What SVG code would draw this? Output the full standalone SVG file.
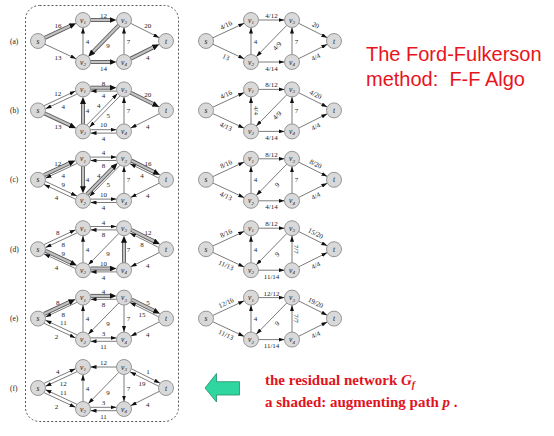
<svg xmlns="http://www.w3.org/2000/svg" width="554" height="436" viewBox="0 0 554 436">
<style>
.nd circle{fill:#d9d9d9;stroke:#808080;stroke-width:0.8}
.nd text{font-family:"Liberation Serif",serif;font-style:italic;font-size:7.5px;text-anchor:middle;fill:#222}
.nd tspan{font-size:5px}
.e{fill:none;stroke:#222;stroke-width:0.6;marker-end:url(#ah)}
.sb{fill:none;stroke:#5c5c5c;stroke-width:4}
.sf{fill:none;stroke:#c2c2c2;stroke-width:2.2;marker-end:url(#ahs)}
.l{font-family:"Liberation Serif",serif;font-size:7px;text-anchor:middle;fill:#222}
.rl{font-family:"Liberation Serif",serif;font-size:7.5px;fill:#222}
.title{font-family:"Liberation Sans",Arial,sans-serif;font-size:20px;fill:#e8141c}
.note{font-family:"Liberation Serif","Times New Roman",serif;font-size:15px;font-weight:bold;fill:#e0141e}
</style>
<defs>
<marker id="ah" viewBox="0 0 6 4" markerWidth="6" markerHeight="4" refX="6" refY="2" orient="auto" markerUnits="userSpaceOnUse"><path d="M0,0L6,2L0,4z" fill="#111"/></marker>
<marker id="ahs" viewBox="0 0 7 6" markerWidth="7" markerHeight="6" refX="2" refY="3" orient="auto" markerUnits="userSpaceOnUse"><path d="M0,0L7,3L0,6z" fill="#111"/></marker>
</defs>
<rect id="frame" x="25.5" y="5.5" width="153" height="416" rx="14" fill="none" stroke="#555" stroke-width="1" stroke-dasharray="2,2"/>
<g id="row-labels">
<text class="rl" x="10" y="43.5">(a)</text>
<text class="rl" x="10" y="112.9">(b)</text>
<text class="rl" x="10" y="182.3">(c)</text>
<text class="rl" x="10" y="251.7">(d)</text>
<text class="rl" x="10" y="321.1">(e)</text>
<text class="rl" x="10" y="390.5">(f)</text>
</g>

<!-- (a) residual -->
<g id="left-a" transform="translate(38,41)">
<g id="left-a-edges">
<path class="sb" d="M6.8,-3.17L33.67,-15.72"/><path class="sf" d="M6.8,-3.17L33.67,-15.72"/>
<path class="e" d="M6.8,3.17L38.2,17.83"/>
<path class="sb" d="M52.5,-21L73.5,-21"/><path class="sf" d="M52.5,-21L73.5,-21"/>
<path class="e" d="M45,13.5L45,-13.5"/>
<path class="sb" d="M80.76,-15.63L53.73,12.05"/><path class="sf" d="M80.76,-15.63L53.73,12.05"/>
<path class="sb" d="M52.5,21L73.5,21"/><path class="sf" d="M52.5,21L73.5,21"/>
<path class="e" d="M86,13.5L86,-13.5"/>
<path class="e" d="M92.71,-17.65L121.29,-3.35"/>
<path class="sb" d="M92.71,17.65L116.82,5.59"/><path class="sf" d="M92.71,17.65L116.82,5.59"/>
<text class="l" x="20" y="-13.5">16</text>
<text class="l" x="20" y="18.5">13</text>
<text class="l" x="65.5" y="-23">12</text>
<text class="l" x="49.5" y="2.5">4</text>
<text class="l" x="70" y="7">9</text>
<text class="l" x="65.5" y="29.5">14</text>
<text class="l" x="90.5" y="2.5">7</text>
<text class="l" x="109.7" y="-13.5">20</text>
<text class="l" x="109.7" y="18.5">4</text>
</g>
<g id="a-s" class="nd"><circle r="7.5"/><text y="2.5">s</text></g>
<g id="a-v1" class="nd" transform="translate(45,-21)"><circle r="7.5"/><text y="2.5">v<tspan dy="1.5">1</tspan></text></g>
<g id="a-v2" class="nd" transform="translate(45,21)"><circle r="7.5"/><text y="2.5">v<tspan dy="1.5">2</tspan></text></g>
<g id="a-v3" class="nd" transform="translate(86,-21)"><circle r="7.5"/><text y="2.5">v<tspan dy="1.5">3</tspan></text></g>
<g id="a-v4" class="nd" transform="translate(86,21)"><circle r="7.5"/><text y="2.5">v<tspan dy="1.5">4</tspan></text></g>
<g id="a-t" class="nd" transform="translate(128,0)"><circle r="7.5"/><text y="2.5">t</text></g>
</g>

<!-- (b) residual -->
<g id="left-b" transform="translate(38,110.4)">
<g id="left-b-edges">
<path class="e" d="M6.08,-4.71L37.48,-19.37"/>
<path class="e" d="M38.92,-16.29L7.52,-1.63"/>
<path class="sb" d="M6.8,3.17L33.67,15.72"/><path class="sf" d="M6.8,3.17L33.67,15.72"/>
<path class="sb" d="M45,13.5L45,-8.5"/><path class="sf" d="M45,13.5L45,-8.5"/>
<path class="sb" d="M52.5,-22.7L73.5,-22.7"/><path class="sf" d="M52.5,-22.7L73.5,-22.7"/>
<path class="e" d="M78.5,-19.3L52.5,-19.3"/>
<path class="e" d="M81.98,-14.44L51.46,16.82"/>
<path class="e" d="M49.02,14.44L79.54,-16.82"/>
<path class="e" d="M52.5,19.3L78.5,19.3"/>
<path class="e" d="M78.5,22.7L52.5,22.7"/>
<path class="e" d="M86,13.5L86,-13.5"/>
<path class="sb" d="M92.71,-17.65L116.82,-5.59"/><path class="sf" d="M92.71,-17.65L116.82,-5.59"/>
<path class="e" d="M121.29,3.35L92.71,17.65"/>
<text class="l" x="19.7" y="-14.1">12</text>
<text class="l" x="25.3" y="-1.9">4</text>
<text class="l" x="20" y="18.5">13</text>
<text class="l" x="49.5" y="2.5">4</text>
<text class="l" x="65.5" y="-24.5">8</text>
<text class="l" x="65.5" y="-12">4</text>
<text class="l" x="70.3" y="7.2">5</text>
<text class="l" x="60.7" y="-2.2">4</text>
<text class="l" x="65.5" y="17">10</text>
<text class="l" x="65.5" y="30.5">4</text>
<text class="l" x="90.5" y="2.5">7</text>
<text class="l" x="109.7" y="-13.5">20</text>
<text class="l" x="109.7" y="18.5">4</text>
</g>
<g id="b-s" class="nd"><circle r="7.5"/><text y="2.5">s</text></g>
<g id="b-v1" class="nd" transform="translate(45,-21)"><circle r="7.5"/><text y="2.5">v<tspan dy="1.5">1</tspan></text></g>
<g id="b-v2" class="nd" transform="translate(45,21)"><circle r="7.5"/><text y="2.5">v<tspan dy="1.5">2</tspan></text></g>
<g id="b-v3" class="nd" transform="translate(86,-21)"><circle r="7.5"/><text y="2.5">v<tspan dy="1.5">3</tspan></text></g>
<g id="b-v4" class="nd" transform="translate(86,21)"><circle r="7.5"/><text y="2.5">v<tspan dy="1.5">4</tspan></text></g>
<g id="b-t" class="nd" transform="translate(128,0)"><circle r="7.5"/><text y="2.5">t</text></g>
</g>

<!-- (c) residual -->
<g id="left-c" transform="translate(38,179.8)">
<g id="left-c-edges">
<path class="sb" d="M6.08,-4.71L32.95,-17.26"/><path class="sf" d="M6.08,-4.71L32.95,-17.26"/>
<path class="e" d="M38.92,-16.29L7.52,-1.63"/>
<path class="e" d="M7.52,1.63L38.92,16.29"/>
<path class="e" d="M37.48,19.37L6.08,4.71"/>
<path class="e" d="M52.5,-22.7L78.5,-22.7"/>
<path class="e" d="M78.5,-19.3L52.5,-19.3"/>
<path class="sb" d="M45,-13.5L45,8.5"/><path class="sf" d="M45,-13.5L45,8.5"/>
<path class="sb" d="M49.02,14.44L76.05,-13.24"/><path class="sf" d="M49.02,14.44L76.05,-13.24"/>
<path class="e" d="M81.98,-14.44L51.46,16.82"/>
<path class="e" d="M52.5,19.3L78.5,19.3"/>
<path class="e" d="M78.5,22.7L52.5,22.7"/>
<path class="e" d="M86,13.5L86,-13.5"/>
<path class="sb" d="M93.47,-19.17L117.58,-7.11"/><path class="sf" d="M93.47,-19.17L117.58,-7.11"/>
<path class="e" d="M120.53,-1.83L91.95,-16.13"/>
<path class="e" d="M121.29,3.35L92.71,17.65"/>
<text class="l" x="19.7" y="-14.1">12</text>
<text class="l" x="25.3" y="-1.9">4</text>
<text class="l" x="25.3" y="6.9">9</text>
<text class="l" x="18.5" y="20.5">4</text>
<text class="l" x="65.5" y="-24.5">4</text>
<text class="l" x="65.5" y="-12">8</text>
<text class="l" x="49.5" y="2.5">4</text>
<text class="l" x="60.7" y="-2.2">4</text>
<text class="l" x="70.3" y="7.2">5</text>
<text class="l" x="65.5" y="17">10</text>
<text class="l" x="65.5" y="30.5">4</text>
<text class="l" x="90.5" y="2.5">7</text>
<text class="l" x="110" y="-14">16</text>
<text class="l" x="104" y="-2">4</text>
<text class="l" x="109.7" y="18.5">4</text>
</g>
<g id="c-s" class="nd"><circle r="7.5"/><text y="2.5">s</text></g>
<g id="c-v1" class="nd" transform="translate(45,-21)"><circle r="7.5"/><text y="2.5">v<tspan dy="1.5">1</tspan></text></g>
<g id="c-v2" class="nd" transform="translate(45,21)"><circle r="7.5"/><text y="2.5">v<tspan dy="1.5">2</tspan></text></g>
<g id="c-v3" class="nd" transform="translate(86,-21)"><circle r="7.5"/><text y="2.5">v<tspan dy="1.5">3</tspan></text></g>
<g id="c-v4" class="nd" transform="translate(86,21)"><circle r="7.5"/><text y="2.5">v<tspan dy="1.5">4</tspan></text></g>
<g id="c-t" class="nd" transform="translate(128,0)"><circle r="7.5"/><text y="2.5">t</text></g>
</g>

<!-- (d) residual -->
<g id="left-d" transform="translate(38,249.2)">
<g id="left-d-edges">
<path class="e" d="M6.08,-4.71L37.48,-19.37"/>
<path class="e" d="M38.92,-16.29L7.52,-1.63"/>
<path class="sb" d="M7.52,1.63L34.39,14.18"/><path class="sf" d="M7.52,1.63L34.39,14.18"/>
<path class="e" d="M37.48,19.37L6.08,4.71"/>
<path class="e" d="M52.5,-22.7L78.5,-22.7"/>
<path class="e" d="M78.5,-19.3L52.5,-19.3"/>
<path class="e" d="M45,13.5L45,-13.5"/>
<path class="e" d="M80.76,-15.63L50.24,15.63"/>
<path class="sb" d="M52.5,19.3L73.5,19.3"/><path class="sf" d="M52.5,19.3L73.5,19.3"/>
<path class="e" d="M78.5,22.7L52.5,22.7"/>
<path class="sb" d="M86,13.5L86,-8.5"/><path class="sf" d="M86,13.5L86,-8.5"/>
<path class="sb" d="M93.47,-19.17L117.58,-7.11"/><path class="sf" d="M93.47,-19.17L117.58,-7.11"/>
<path class="e" d="M120.53,-1.83L91.95,-16.13"/>
<path class="e" d="M121.29,3.35L92.71,17.65"/>
<text class="l" x="19.7" y="-14.1">8</text>
<text class="l" x="25.3" y="-1.9">8</text>
<text class="l" x="25.3" y="6.9">9</text>
<text class="l" x="18.5" y="20.5">4</text>
<text class="l" x="65.5" y="-24.5">4</text>
<text class="l" x="65.5" y="-12">8</text>
<text class="l" x="49.5" y="2.5">4</text>
<text class="l" x="70" y="7">9</text>
<text class="l" x="65.5" y="17">10</text>
<text class="l" x="65.5" y="30.5">4</text>
<text class="l" x="90.5" y="2.5">7</text>
<text class="l" x="110" y="-14">12</text>
<text class="l" x="104" y="-2">8</text>
<text class="l" x="109.7" y="18.5">4</text>
</g>
<g id="d-s" class="nd"><circle r="7.5"/><text y="2.5">s</text></g>
<g id="d-v1" class="nd" transform="translate(45,-21)"><circle r="7.5"/><text y="2.5">v<tspan dy="1.5">1</tspan></text></g>
<g id="d-v2" class="nd" transform="translate(45,21)"><circle r="7.5"/><text y="2.5">v<tspan dy="1.5">2</tspan></text></g>
<g id="d-v3" class="nd" transform="translate(86,-21)"><circle r="7.5"/><text y="2.5">v<tspan dy="1.5">3</tspan></text></g>
<g id="d-v4" class="nd" transform="translate(86,21)"><circle r="7.5"/><text y="2.5">v<tspan dy="1.5">4</tspan></text></g>
<g id="d-t" class="nd" transform="translate(128,0)"><circle r="7.5"/><text y="2.5">t</text></g>
</g>

<!-- (e) residual -->
<g id="left-e" transform="translate(38,318.6)">
<g id="left-e-edges">
<path class="sb" d="M6.08,-4.71L32.95,-17.26"/><path class="sf" d="M6.08,-4.71L32.95,-17.26"/>
<path class="e" d="M38.92,-16.29L7.52,-1.63"/>
<path class="e" d="M38.92,16.29L7.52,1.63"/>
<path class="e" d="M6.08,4.71L37.48,19.37"/>
<path class="sb" d="M52.5,-22.7L73.5,-22.7"/><path class="sf" d="M52.5,-22.7L73.5,-22.7"/>
<path class="e" d="M78.5,-19.3L52.5,-19.3"/>
<path class="e" d="M45,13.5L45,-13.5"/>
<path class="e" d="M80.76,-15.63L50.24,15.63"/>
<path class="e" d="M86,-13.5L86,13.5"/>
<path class="e" d="M52.5,19.3L78.5,19.3"/>
<path class="e" d="M78.5,22.7L52.5,22.7"/>
<path class="sb" d="M93.47,-19.17L117.58,-7.11"/><path class="sf" d="M93.47,-19.17L117.58,-7.11"/>
<path class="e" d="M120.53,-1.83L91.95,-16.13"/>
<path class="e" d="M121.29,3.35L92.71,17.65"/>
<text class="l" x="19.7" y="-14.1">8</text>
<text class="l" x="25.3" y="-1.9">8</text>
<text class="l" x="25.3" y="6.9">11</text>
<text class="l" x="18.5" y="20.5">2</text>
<text class="l" x="65.5" y="-24.5">4</text>
<text class="l" x="65.5" y="-12">8</text>
<text class="l" x="49.5" y="2.5">4</text>
<text class="l" x="70" y="7">9</text>
<text class="l" x="90.5" y="2.5">7</text>
<text class="l" x="65.5" y="17">3</text>
<text class="l" x="65.5" y="30.5">11</text>
<text class="l" x="110" y="-14">5</text>
<text class="l" x="104" y="-2">15</text>
<text class="l" x="109.7" y="18.5">4</text>
</g>
<g id="e-s" class="nd"><circle r="7.5"/><text y="2.5">s</text></g>
<g id="e-v1" class="nd" transform="translate(45,-21)"><circle r="7.5"/><text y="2.5">v<tspan dy="1.5">1</tspan></text></g>
<g id="e-v2" class="nd" transform="translate(45,21)"><circle r="7.5"/><text y="2.5">v<tspan dy="1.5">2</tspan></text></g>
<g id="e-v3" class="nd" transform="translate(86,-21)"><circle r="7.5"/><text y="2.5">v<tspan dy="1.5">3</tspan></text></g>
<g id="e-v4" class="nd" transform="translate(86,21)"><circle r="7.5"/><text y="2.5">v<tspan dy="1.5">4</tspan></text></g>
<g id="e-t" class="nd" transform="translate(128,0)"><circle r="7.5"/><text y="2.5">t</text></g>
</g>

<!-- (f) residual -->
<g id="left-f" transform="translate(38,388)">
<g id="left-f-edges">
<path class="e" d="M6.08,-4.71L37.48,-19.37"/>
<path class="e" d="M38.92,-16.29L7.52,-1.63"/>
<path class="e" d="M38.92,16.29L7.52,1.63"/>
<path class="e" d="M6.08,4.71L37.48,19.37"/>
<path class="e" d="M78.5,-21L52.5,-21"/>
<path class="e" d="M45,13.5L45,-13.5"/>
<path class="e" d="M80.76,-15.63L50.24,15.63"/>
<path class="e" d="M86,-13.5L86,13.5"/>
<path class="e" d="M52.5,19.3L78.5,19.3"/>
<path class="e" d="M78.5,22.7L52.5,22.7"/>
<path class="e" d="M93.47,-19.17L122.05,-4.87"/>
<path class="e" d="M120.53,-1.83L91.95,-16.13"/>
<path class="e" d="M121.29,3.35L92.71,17.65"/>
<text class="l" x="19.7" y="-14.1">4</text>
<text class="l" x="25.3" y="-1.9">12</text>
<text class="l" x="25.3" y="6.9">11</text>
<text class="l" x="18.5" y="20.5">2</text>
<text class="l" x="65.5" y="-23">12</text>
<text class="l" x="49.5" y="2.5">4</text>
<text class="l" x="70" y="7">9</text>
<text class="l" x="90.5" y="2.5">7</text>
<text class="l" x="65.5" y="17">3</text>
<text class="l" x="65.5" y="30.5">11</text>
<text class="l" x="110" y="-14">1</text>
<text class="l" x="104" y="-2">19</text>
<text class="l" x="109.7" y="18.5">4</text>
</g>
<g id="f-s" class="nd"><circle r="7.5"/><text y="2.5">s</text></g>
<g id="f-v1" class="nd" transform="translate(45,-21)"><circle r="7.5"/><text y="2.5">v<tspan dy="1.5">1</tspan></text></g>
<g id="f-v2" class="nd" transform="translate(45,21)"><circle r="7.5"/><text y="2.5">v<tspan dy="1.5">2</tspan></text></g>
<g id="f-v3" class="nd" transform="translate(86,-21)"><circle r="7.5"/><text y="2.5">v<tspan dy="1.5">3</tspan></text></g>
<g id="f-v4" class="nd" transform="translate(86,21)"><circle r="7.5"/><text y="2.5">v<tspan dy="1.5">4</tspan></text></g>
<g id="f-t" class="nd" transform="translate(128,0)"><circle r="7.5"/><text y="2.5">t</text></g>
</g>

<!-- flow networks (right column) -->
<g id="right-a" transform="translate(206,41)">
<g id="right-a-edges">
<path class="e" d="M6.8,-3.17L38.2,-17.83"/><path class="e" d="M6.8,3.17L38.2,17.83"/><path class="e" d="M52.5,-21L78.5,-21"/><path class="e" d="M45,13.5L45,-13.5"/><path class="e" d="M80.76,-15.63L50.24,15.63"/><path class="e" d="M52.5,21L78.5,21"/><path class="e" d="M86,13.5L86,-13.5"/><path class="e" d="M92.71,-17.65L121.29,-3.35"/><path class="e" d="M92.71,17.65L121.29,3.35"/>
<text class="l" transform="translate(20,-16) rotate(-25)" y="2.5">4/16</text>
<text class="l" transform="translate(20,16) rotate(25)" y="2.5">13</text>
<text class="l" x="65.5" y="-23">4/12</text>
<text class="l" x="49.5" y="2.5">4</text>
<text class="l" transform="translate(71,5) rotate(-45)" y="2.5">4/9</text>
<text class="l" x="65.5" y="29.5">4/14</text>
<text class="l" x="90.5" y="2.5">7</text>
<text class="l" transform="translate(109.7,-16) rotate(26.6)" y="2.5">20</text>
<text class="l" transform="translate(109.7,16) rotate(-26.6)" y="2.5">4/4</text>
</g>
<g id="ra-s" class="nd"><circle r="7.5"/><text y="2.5">s</text></g>
<g id="ra-v1" class="nd" transform="translate(45,-21)"><circle r="7.5"/><text y="2.5">v<tspan dy="1.5">1</tspan></text></g>
<g id="ra-v2" class="nd" transform="translate(45,21)"><circle r="7.5"/><text y="2.5">v<tspan dy="1.5">2</tspan></text></g>
<g id="ra-v3" class="nd" transform="translate(86,-21)"><circle r="7.5"/><text y="2.5">v<tspan dy="1.5">3</tspan></text></g>
<g id="ra-v4" class="nd" transform="translate(86,21)"><circle r="7.5"/><text y="2.5">v<tspan dy="1.5">4</tspan></text></g>
<g id="ra-t" class="nd" transform="translate(128,0)"><circle r="7.5"/><text y="2.5">t</text></g>
</g>

<g id="right-b" transform="translate(206,110.4)">
<g id="right-b-edges">
<path class="e" d="M6.8,-3.17L38.2,-17.83"/><path class="e" d="M6.8,3.17L38.2,17.83"/><path class="e" d="M52.5,-21L78.5,-21"/><path class="e" d="M45,13.5L45,-13.5"/><path class="e" d="M80.76,-15.63L50.24,15.63"/><path class="e" d="M52.5,21L78.5,21"/><path class="e" d="M86,13.5L86,-13.5"/><path class="e" d="M92.71,-17.65L121.29,-3.35"/><path class="e" d="M92.71,17.65L121.29,3.35"/>
<text class="l" transform="translate(20,-16) rotate(-25)" y="2.5">4/16</text>
<text class="l" transform="translate(20,16) rotate(25)" y="2.5">4/13</text>
<text class="l" x="65.5" y="-23">8/12</text>
<text class="l" transform="translate(50,0) rotate(90)" y="2.5">4/4</text>
<text class="l" transform="translate(71,5) rotate(-45)" y="2.5">4/9</text>
<text class="l" x="65.5" y="29.5">4/14</text>
<text class="l" x="90.5" y="2.5">7</text>
<text class="l" transform="translate(109.7,-16) rotate(26.6)" y="2.5">4/20</text>
<text class="l" transform="translate(109.7,16) rotate(-26.6)" y="2.5">4/4</text>
</g>
<g id="rb-s" class="nd"><circle r="7.5"/><text y="2.5">s</text></g>
<g id="rb-v1" class="nd" transform="translate(45,-21)"><circle r="7.5"/><text y="2.5">v<tspan dy="1.5">1</tspan></text></g>
<g id="rb-v2" class="nd" transform="translate(45,21)"><circle r="7.5"/><text y="2.5">v<tspan dy="1.5">2</tspan></text></g>
<g id="rb-v3" class="nd" transform="translate(86,-21)"><circle r="7.5"/><text y="2.5">v<tspan dy="1.5">3</tspan></text></g>
<g id="rb-v4" class="nd" transform="translate(86,21)"><circle r="7.5"/><text y="2.5">v<tspan dy="1.5">4</tspan></text></g>
<g id="rb-t" class="nd" transform="translate(128,0)"><circle r="7.5"/><text y="2.5">t</text></g>
</g>

<g id="right-c" transform="translate(206,179.8)">
<g id="right-c-edges">
<path class="e" d="M6.8,-3.17L38.2,-17.83"/><path class="e" d="M6.8,3.17L38.2,17.83"/><path class="e" d="M52.5,-21L78.5,-21"/><path class="e" d="M45,13.5L45,-13.5"/><path class="e" d="M80.76,-15.63L50.24,15.63"/><path class="e" d="M52.5,21L78.5,21"/><path class="e" d="M86,13.5L86,-13.5"/><path class="e" d="M92.71,-17.65L121.29,-3.35"/><path class="e" d="M92.71,17.65L121.29,3.35"/>
<text class="l" transform="translate(20,-16) rotate(-25)" y="2.5">8/16</text>
<text class="l" transform="translate(20,16) rotate(25)" y="2.5">4/13</text>
<text class="l" x="65.5" y="-23">8/12</text>
<text class="l" x="49.5" y="2.5">4</text>
<text class="l" transform="translate(71,5) rotate(-45)" y="2.5">9</text>
<text class="l" x="65.5" y="29.5">4/14</text>
<text class="l" x="90.5" y="2.5">7</text>
<text class="l" transform="translate(109.7,-16) rotate(26.6)" y="2.5">8/20</text>
<text class="l" transform="translate(109.7,16) rotate(-26.6)" y="2.5">4/4</text>
</g>
<g id="rc-s" class="nd"><circle r="7.5"/><text y="2.5">s</text></g>
<g id="rc-v1" class="nd" transform="translate(45,-21)"><circle r="7.5"/><text y="2.5">v<tspan dy="1.5">1</tspan></text></g>
<g id="rc-v2" class="nd" transform="translate(45,21)"><circle r="7.5"/><text y="2.5">v<tspan dy="1.5">2</tspan></text></g>
<g id="rc-v3" class="nd" transform="translate(86,-21)"><circle r="7.5"/><text y="2.5">v<tspan dy="1.5">3</tspan></text></g>
<g id="rc-v4" class="nd" transform="translate(86,21)"><circle r="7.5"/><text y="2.5">v<tspan dy="1.5">4</tspan></text></g>
<g id="rc-t" class="nd" transform="translate(128,0)"><circle r="7.5"/><text y="2.5">t</text></g>
</g>

<g id="right-d" transform="translate(206,249.2)">
<g id="right-d-edges">
<path class="e" d="M6.8,-3.17L38.2,-17.83"/><path class="e" d="M6.8,3.17L38.2,17.83"/><path class="e" d="M52.5,-21L78.5,-21"/><path class="e" d="M45,13.5L45,-13.5"/><path class="e" d="M80.76,-15.63L50.24,15.63"/><path class="e" d="M52.5,21L78.5,21"/><path class="e" d="M86,13.5L86,-13.5"/><path class="e" d="M92.71,-17.65L121.29,-3.35"/><path class="e" d="M92.71,17.65L121.29,3.35"/>
<text class="l" transform="translate(20,-16) rotate(-25)" y="2.5">8/16</text>
<text class="l" transform="translate(20,16) rotate(25)" y="2.5">11/13</text>
<text class="l" x="65.5" y="-23">8/12</text>
<text class="l" x="49.5" y="2.5">4</text>
<text class="l" transform="translate(71,5) rotate(-45)" y="2.5">9</text>
<text class="l" x="65.5" y="29.5">11/14</text>
<text class="l" transform="translate(90.5,0) rotate(90)" y="2.5">7/7</text>
<text class="l" transform="translate(109.7,-16) rotate(26.6)" y="2.5">15/20</text>
<text class="l" transform="translate(109.7,16) rotate(-26.6)" y="2.5">4/4</text>
</g>
<g id="rd-s" class="nd"><circle r="7.5"/><text y="2.5">s</text></g>
<g id="rd-v1" class="nd" transform="translate(45,-21)"><circle r="7.5"/><text y="2.5">v<tspan dy="1.5">1</tspan></text></g>
<g id="rd-v2" class="nd" transform="translate(45,21)"><circle r="7.5"/><text y="2.5">v<tspan dy="1.5">2</tspan></text></g>
<g id="rd-v3" class="nd" transform="translate(86,-21)"><circle r="7.5"/><text y="2.5">v<tspan dy="1.5">3</tspan></text></g>
<g id="rd-v4" class="nd" transform="translate(86,21)"><circle r="7.5"/><text y="2.5">v<tspan dy="1.5">4</tspan></text></g>
<g id="rd-t" class="nd" transform="translate(128,0)"><circle r="7.5"/><text y="2.5">t</text></g>
</g>

<g id="right-e" transform="translate(206,318.6)">
<g id="right-e-edges">
<path class="e" d="M6.8,-3.17L38.2,-17.83"/><path class="e" d="M6.8,3.17L38.2,17.83"/><path class="e" d="M52.5,-21L78.5,-21"/><path class="e" d="M45,13.5L45,-13.5"/><path class="e" d="M80.76,-15.63L50.24,15.63"/><path class="e" d="M52.5,21L78.5,21"/><path class="e" d="M86,13.5L86,-13.5"/><path class="e" d="M92.71,-17.65L121.29,-3.35"/><path class="e" d="M92.71,17.65L121.29,3.35"/>
<text class="l" transform="translate(20,-16) rotate(-25)" y="2.5">12/16</text>
<text class="l" transform="translate(20,16) rotate(25)" y="2.5">11/13</text>
<text class="l" x="65.5" y="-23">12/12</text>
<text class="l" x="49.5" y="2.5">4</text>
<text class="l" transform="translate(71,5) rotate(-45)" y="2.5">9</text>
<text class="l" x="65.5" y="29.5">11/14</text>
<text class="l" transform="translate(90.5,0) rotate(90)" y="2.5">7/7</text>
<text class="l" transform="translate(109.7,-16) rotate(26.6)" y="2.5">19/20</text>
<text class="l" transform="translate(109.7,16) rotate(-26.6)" y="2.5">4/4</text>
</g>
<g id="re-s" class="nd"><circle r="7.5"/><text y="2.5">s</text></g>
<g id="re-v1" class="nd" transform="translate(45,-21)"><circle r="7.5"/><text y="2.5">v<tspan dy="1.5">1</tspan></text></g>
<g id="re-v2" class="nd" transform="translate(45,21)"><circle r="7.5"/><text y="2.5">v<tspan dy="1.5">2</tspan></text></g>
<g id="re-v3" class="nd" transform="translate(86,-21)"><circle r="7.5"/><text y="2.5">v<tspan dy="1.5">3</tspan></text></g>
<g id="re-v4" class="nd" transform="translate(86,21)"><circle r="7.5"/><text y="2.5">v<tspan dy="1.5">4</tspan></text></g>
<g id="re-t" class="nd" transform="translate(128,0)"><circle r="7.5"/><text y="2.5">t</text></g>
</g>

<g id="title">
<text class="title" x="366" y="61">The Ford-Fulkerson</text>
<text class="title" x="366" y="86" xml:space="preserve">method:  F-F Algo</text>
</g>
<g id="pointer">
<polygon points="205,388 216.5,373.5 216.5,381.7 239.5,381.7 239.5,395 216.5,395 216.5,402" fill="#2fd6a0" stroke="#1e8f6a" stroke-width="0.8"/>
</g>
<g id="note">
<text class="note" x="265" y="385">the residual network <tspan font-style="italic">G</tspan><tspan font-style="italic" font-size="10px" dy="3">f</tspan></text>
<text class="note" x="265" y="407">a shaded: augmenting path <tspan font-style="italic">p</tspan> .</text>
</g>
</svg>
